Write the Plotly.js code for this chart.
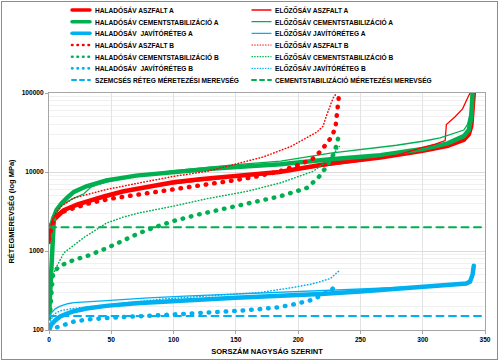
<!DOCTYPE html>
<html>
<head>
<meta charset="utf-8">
<script src="https://cdn.plot.ly/plotly-3.0.1.min.js"></script>
<style>
  html, body { margin: 0; padding: 0; background: #fff; }
  #wrap { position: relative; width: 500px; height: 362px; }
  #chart { width: 500px; height: 362px; }
  #frame { position: absolute; left: 1px; top: 1px; width: 495px; height: 357px; border: 1px solid #8c8c8c; pointer-events: none; }
  .scatterlayer .js-line, .shapelayer path { stroke-linecap: round; }
</style>
</head>
<body>
<div id="wrap"><div id="chart"></div><div id="frame"></div></div>
<script>
// ---------------- DATA ----------------
// HALADÓSÁV (thick solid = A, big dots = B)
const haladoAszfaltA_x = [0, 1, 2, 4, 7, 12, 23, 33, 44, 60, 80, 100, 121, 150, 185, 225, 266, 300, 320, 333, 337, 339, 340, 341];
const haladoAszfaltA_y = [1300, 1700, 2200, 2500, 2800, 3300, 3900, 4400, 4900, 5700, 6500, 7400, 8100, 9000, 10000, 12800, 15200, 18500, 21500, 25500, 30000, 38000, 60000, 100000];

const haladoCementA_x = [0, 1, 2, 3, 4, 6, 10, 15, 20, 30, 46, 70, 100, 130, 160, 186, 226, 266, 300, 320, 333, 337, 339, 340];
const haladoCementA_y = [150, 300, 700, 1600, 2700, 3300, 4000, 4800, 5600, 6600, 7800, 9000, 10000, 11000, 11800, 12500, 14500, 16300, 19500, 23000, 28500, 34000, 50000, 100000];

const haladoJavitoA_x = [0, 2, 5, 9, 14, 20, 30, 46, 70, 95, 113, 150, 190, 218, 250, 280, 300, 320, 335, 338, 340, 341];
const haladoJavitoA_y = [100, 118, 132, 148, 160, 173, 187, 202, 218, 232, 238, 256, 272, 286, 308, 332, 355, 372, 388, 410, 500, 650];

const haladoAszfaltB_x = [0, 2, 5, 10, 20, 33, 50, 73, 100, 127, 150, 167, 185, 199, 212, 218, 222, 227, 230, 231, 232, 233];
const haladoAszfaltB_y = [1400, 2000, 2700, 3100, 3500, 4050, 4600, 5200, 5900, 7000, 7900, 8800, 10200, 12000, 14800, 18300, 22000, 28000, 37000, 55000, 75000, 100000];

const haladoCementB_x = [0, 1, 2, 3, 5, 9, 20, 32, 46, 60, 73, 87, 100, 120, 140, 159, 175, 186, 200, 207, 216, 223, 229, 232, 233];
const haladoCementB_y = [140, 170, 300, 480, 570, 650, 770, 880, 1080, 1350, 1700, 2050, 2400, 2900, 3400, 3900, 4400, 4950, 5800, 6300, 8400, 11800, 17400, 25000, 30000];

const haladoJavitoB_x = [0, 3, 9, 20, 33, 49, 63, 80, 100, 127, 150, 170, 183, 196, 205, 210, 216, 222, 227, 231];
const haladoJavitoB_y = [100, 104, 113, 128, 137, 144, 147, 151, 156, 164, 174, 184, 193, 210, 225, 238, 262, 290, 321, 398];

// ELŐZŐSÁV (thin solid = A, thin dotted = B)
const elozoAszfaltA_x = [0, 1, 3, 6, 10, 20, 30, 50, 80, 100, 150, 200, 250, 280, 300, 310, 318, 319, 326, 332, 335, 338];
const elozoAszfaltA_y = [1350, 2000, 2500, 2900, 3300, 3800, 4300, 5200, 6400, 7100, 8700, 10700, 13700, 16500, 20500, 22500, 25000, 40000, 50000, 63000, 80000, 100000];

const elozoCementA_x = [0, 2, 5, 10, 18, 28, 34, 40, 60, 100, 150, 186, 226, 266, 279, 300, 314, 333, 336, 338, 339, 340];
const elozoCementA_y = [1800, 2600, 3200, 3800, 4500, 5300, 6500, 7000, 8500, 10400, 12400, 13700, 17300, 20500, 21800, 24500, 27000, 34000, 40000, 55000, 75000, 100000];

const elozoJavitoA_x = [0, 2, 5, 9, 15, 20, 46, 80, 113, 150, 190, 218, 234, 260, 290, 320, 336, 339, 340];
const elozoJavitoA_y = [145, 165, 185, 200, 215, 222, 235, 255, 270, 285, 300, 312, 320, 333, 350, 372, 395, 430, 600];

const elozoAszfaltB_x = [0, 2, 5, 10, 20, 46, 73, 100, 127, 145, 172, 194, 207, 215, 220, 223, 228, 231];
const elozoAszfaltB_y = [1500, 2300, 3000, 3700, 4700, 6000, 7300, 8800, 10200, 12000, 15500, 21000, 27000, 32000, 38000, 53000, 86000, 100000];

const elozoCementB_x = [0, 2, 5, 12, 20, 28, 36, 46, 60, 73, 100, 127, 159, 186, 212, 223, 231, 233];
const elozoCementB_y = [300, 400, 590, 950, 1200, 1480, 1780, 2250, 2700, 3050, 3700, 4600, 5700, 7300, 10200, 13700, 19000, 21000];

const elozoJavitoB_x = [0, 4, 9, 17, 30, 50, 89, 120, 150, 170, 196, 210, 218, 226, 232, 233];
const elozoJavitoB_y = [120, 158, 175, 185, 195, 210, 245, 265, 285, 299, 346, 380, 410, 450, 545, 560];

// design stiffness reference lines
const refLine_x = [0, 350];
const szemcsesMerevseg_y = [150, 150];
const cementMerevseg_y = [2000, 2000];

// labels
const seriesNames = {
  hAszA: 'HALADÓSÁV ASZFALT A',
  hCemA: 'HALADÓSÁV CEMENTSTABILIZÁCIÓ A',
  hJavA: 'HALADÓSÁV  JAVÍTÓRÉTEG A',
  hAszB: 'HALADÓSÁV ASZFALT B',
  hCemB: 'HALADÓSÁV CEMENTSTABILIZÁCIÓ B',
  hJavB: 'HALADÓSÁV  JAVÍTÓRÉTEG B',
  szem:  'SZEMCSÉS RÉTEG MÉRETEZÉSI MEREVSÉG',
  eAszA: 'ELŐZŐSÁV ASZFALT A',
  eCemA: 'ELŐZŐSÁV CEMENTSTABILIZÁCIÓ A',
  eJavA: 'ELŐZŐSÁV JAVÍTÓRÉTEG A',
  eAszB: 'ELŐZŐSÁV ASZFALT B',
  eCemB: 'ELŐZŐSÁV CEMENTSTABILIZÁCIÓ B',
  eJavB: 'ELŐZŐSÁV JAVÍTÓRÉTEG B',
  cem:   'CEMENTSTABILIZÁCIÓ MÉRETEZÉSI MEREVSÉG'
};
const xTitle = 'SORSZÁM NAGYSÁG SZERINT';
const yTitle = 'RÉTEGMEREVSÉG (log MPa)';

// ---------------- STYLES ----------------
const RED = '#FF0000', GREEN = '#00B050', BLUE = '#00B0F0';
const FONT = 'Liberation Sans, Arial, sans-serif';
const S = {
  thick:   { width: 4.5, dash: 'solid' },
  thin:    { width: 1.3, dash: 'solid' },
  bigDot:  { width: 4.5, dash: '0.5px,8px' },
  smallDot:{ width: 1.5, dash: '0.5px,2.6px' },
  refDash: { width: 2,   dash: '7px,5.5px' }
};

function tr(name, x, y, color, st) {
  return { type: 'scatter', mode: 'lines', name: name, x: x, y: y,
           line: { color: color, width: st.width, dash: st.dash }, showlegend: false,
           hoverinfo: 'x+y+name' };
}

const data = [
  tr(seriesNames.hAszA, haladoAszfaltA_x, haladoAszfaltA_y, RED, S.thick),
  tr(seriesNames.hCemA, haladoCementA_x, haladoCementA_y, GREEN, S.thick),
  tr(seriesNames.hJavA, haladoJavitoA_x, haladoJavitoA_y, BLUE, S.thick),
  tr(seriesNames.eAszA, elozoAszfaltA_x, elozoAszfaltA_y, RED, S.thin),
  tr(seriesNames.eCemA, elozoCementA_x, elozoCementA_y, GREEN, S.thin),
  tr(seriesNames.eJavA, elozoJavitoA_x, elozoJavitoA_y, BLUE, S.thin),
  tr(seriesNames.hAszB, haladoAszfaltB_x, haladoAszfaltB_y, RED, S.bigDot),
  tr(seriesNames.hCemB, haladoCementB_x, haladoCementB_y, GREEN, S.bigDot),
  tr(seriesNames.hJavB, haladoJavitoB_x, haladoJavitoB_y, BLUE, S.bigDot),
  tr(seriesNames.eAszB, elozoAszfaltB_x, elozoAszfaltB_y, RED, S.smallDot),
  tr(seriesNames.eCemB, elozoCementB_x, elozoCementB_y, GREEN, S.smallDot),
  tr(seriesNames.eJavB, elozoJavitoB_x, elozoJavitoB_y, BLUE, S.smallDot),
  tr(seriesNames.szem, refLine_x, szemcsesMerevseg_y, BLUE, S.refDash),
  tr(seriesNames.cem, refLine_x, cementMerevseg_y, GREEN, S.refDash)
];

// ---------------- LEGEND (two dense columns, drawn as shapes + text) ----------------
const M = { l: 49, r: 15, t: 93, b: 32 };
const W = 500, H = 362;
const PW = W - M.l - M.r, PH = H - M.t - M.b;
const px = v => (v - M.l) / PW;
const py = v => (H - M.b - v) / PH;

const legendCols = [
  { keyX0: 72, keyX1: 90, textX: 93, items: [
    [seriesNames.hAszA, RED, { width: 3.5, dash: 'solid' }],
    [seriesNames.hCemA, GREEN, { width: 3.5, dash: 'solid' }],
    [seriesNames.hJavA, BLUE, { width: 3.5, dash: 'solid' }],
    [seriesNames.hAszB, RED, { width: 2.6, dash: '0.5px,5px' }],
    [seriesNames.hCemB, GREEN, { width: 2.6, dash: '0.5px,5px' }],
    [seriesNames.hJavB, BLUE, { width: 2.6, dash: '0.5px,5px' }],
    [seriesNames.szem, BLUE, { width: 2, dash: '4px,4px' }]
  ]},
  { keyX0: 252, keyX1: 271, textX: 273, items: [
    [seriesNames.eAszA, RED, { width: 1.3, dash: 'solid' }],
    [seriesNames.eCemA, GREEN, { width: 1.3, dash: 'solid' }],
    [seriesNames.eJavA, BLUE, { width: 1.3, dash: 'solid' }],
    [seriesNames.eAszB, RED, { width: 1.2, dash: '0.5px,2.2px' }],
    [seriesNames.eCemB, GREEN, { width: 1.2, dash: '0.5px,2.2px' }],
    [seriesNames.eJavB, BLUE, { width: 1.2, dash: '0.5px,2.2px' }],
    [seriesNames.cem, GREEN, { width: 2, dash: '4px,4px' }]
  ]}
];
const legendRowY0 = 10, legendRowStep = 11.67;

const shapes = [], annotations = [];
legendCols.forEach(col => {
  col.items.forEach((it, i) => {
    const yy = py(legendRowY0 + i * legendRowStep);
    shapes.push({ type: 'line', xref: 'paper', yref: 'paper',
      x0: px(col.keyX0), x1: px(col.keyX1), y0: yy, y1: yy,
      line: { color: it[1], width: it[2].width, dash: it[2].dash } });
    annotations.push({ xref: 'paper', yref: 'paper', x: px(col.textX), y: yy,
      xanchor: 'left', yanchor: 'middle', showarrow: false, text: it[0],
      font: { family: FONT, size: 6.6, color: '#000', weight: 'bold' } });
  });
});

const layout = {
  width: W, height: H, margin: M,
  paper_bgcolor: '#fff', plot_bgcolor: '#fff',
  showlegend: false,
  font: { family: FONT, size: 6.6, color: '#000', weight: 'bold' },
  xaxis: {
    range: [0, 350], dtick: 50, tick0: 0,
    showgrid: true, gridcolor: '#e3e3e3', gridwidth: 1,
    showline: true, linecolor: '#a6a6a6', linewidth: 1, mirror: true,
    ticks: 'outside', ticklen: 3, tickcolor: '#a6a6a6',
    zeroline: false,
    tickfont: { family: FONT, size: 6.6, color: '#000', weight: 'bold' },
    title: { text: xTitle, standoff: 6, font: { family: FONT, size: 7.5, color: '#000', weight: 'bold' } }
  },
  yaxis: {
    type: 'log', range: [2, 5], dtick: 1, tickformat: 'd',
    showgrid: true, gridcolor: '#dcdcdc', gridwidth: 1,
    minor: { dtick: 'D1', showgrid: true, gridcolor: '#f0f0f0', gridwidth: 1, ticks: '' },
    showline: true, linecolor: '#a6a6a6', linewidth: 1, mirror: true,
    ticks: 'outside', ticklen: 3, tickcolor: '#a6a6a6',
    zeroline: false,
    tickfont: { family: FONT, size: 6.6, color: '#000', weight: 'bold' },
    title: { text: yTitle, standoff: 6, font: { family: FONT, size: 7.5, color: '#000', weight: 'bold' } }
  },
  shapes: shapes,
  annotations: annotations
};

Plotly.newPlot('chart', data, layout, { staticPlot: true, displayModeBar: false });
</script>
</body>
</html>
